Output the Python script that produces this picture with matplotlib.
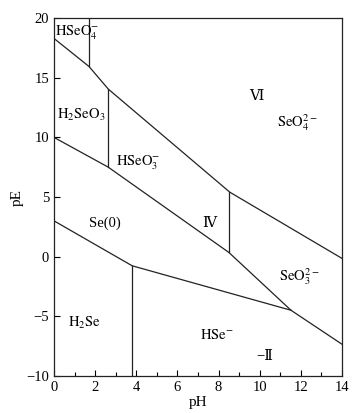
import matplotlib
matplotlib.use("Agg")
import matplotlib.pyplot as plt
from matplotlib.ticker import MultipleLocator

plt.rcParams.update({
    "font.family": ["Liberation Serif", "DejaVu Serif", "DejaVu Sans"],
    "mathtext.fontset": "stix",
    "font.size": 10.5,
})

# boundary lines (pH, pE)
hseo4_h2seo3_pH = [0, 1.7, 2.64, 8.55, 14]
hseo4_h2seo3_pE = [18.3, 15.95, 14.05, 5.4, -0.15]

seiv_se0_pH = [0, 2.64, 8.5, 11.52, 14]
seiv_se0_pE = [10.0, 7.5, 0.35, -4.5, -7.35]

se0_h2se_pH = [0, 3.8, 11.52]
se0_h2se_pE = [3.0, -0.77, -4.5]

# vertical acid-base boundaries: (pH, pE bottom, pE top)
verticals = [(1.7, 15.95, 20), (2.64, 7.5, 14.05), (8.5, 0.35, 5.4), (3.8, -10, -0.77)]

labels = [
    (0.05, 18.75, r"$\mathrm{HSeO_4^{-}}$", "left"),
    (0.15, 11.9, r"$\mathrm{H_2SeO_3}$", "left"),
    (3.0, 7.85, r"$\mathrm{HSeO_3^{-}}$", "left"),
    (9.85, 13.4, "Ⅵ", "center"),
    (11.8, 11.2, r"$\mathrm{SeO_4^{2-}}$", "center"),
    (2.45, 2.8, "Se(0)", "center"),
    (7.55, 2.8, "Ⅳ", "center"),
    (11.9, -1.7, r"$\mathrm{SeO_3^{2-}}$", "center"),
    (1.5, -5.6, r"$\mathrm{H_2Se}$", "center"),
    (7.9, -6.6, r"$\mathrm{HSe^{-}}$", "center"),
    (10.25, -8.4, "−Ⅱ", "center"),
]

fig = plt.figure(figsize=(3.6, 4.13), dpi=100)
ax = fig.add_axes([0.15, 0.09, 0.80, 0.866])

lc = "#222222"
ax.plot(hseo4_h2seo3_pH, hseo4_h2seo3_pE, color=lc, lw=0.9)
ax.plot(seiv_se0_pH, seiv_se0_pE, color=lc, lw=0.9)
ax.plot(se0_h2se_pH, se0_h2se_pE, color=lc, lw=0.9)
for x, y0, y1 in verticals:
    ax.plot([x, x], [y0, y1], color=lc, lw=0.9)

for x, y, s, ha in labels:
    ax.text(x, y, s, ha=ha, va="center", fontsize=10.5)

ax.set_xlim(0, 14)
ax.set_ylim(-10, 20)
ax.xaxis.set_major_locator(MultipleLocator(2))
ax.xaxis.set_minor_locator(MultipleLocator(1))
ax.yaxis.set_major_locator(MultipleLocator(5))
ax.tick_params(direction="in", top=False, right=False, length=4, width=0.8, labelsize=10.5)
ax.tick_params(which="minor", direction="in", length=3, width=0.8)
ax.set_xlabel("pH", labelpad=2, fontsize=11)
ax.set_ylabel("pE", labelpad=2, fontsize=11)
for s in ax.spines.values():
    s.set_linewidth(0.9)
    s.set_color(lc)

fig.savefig("out.png", dpi=100)
